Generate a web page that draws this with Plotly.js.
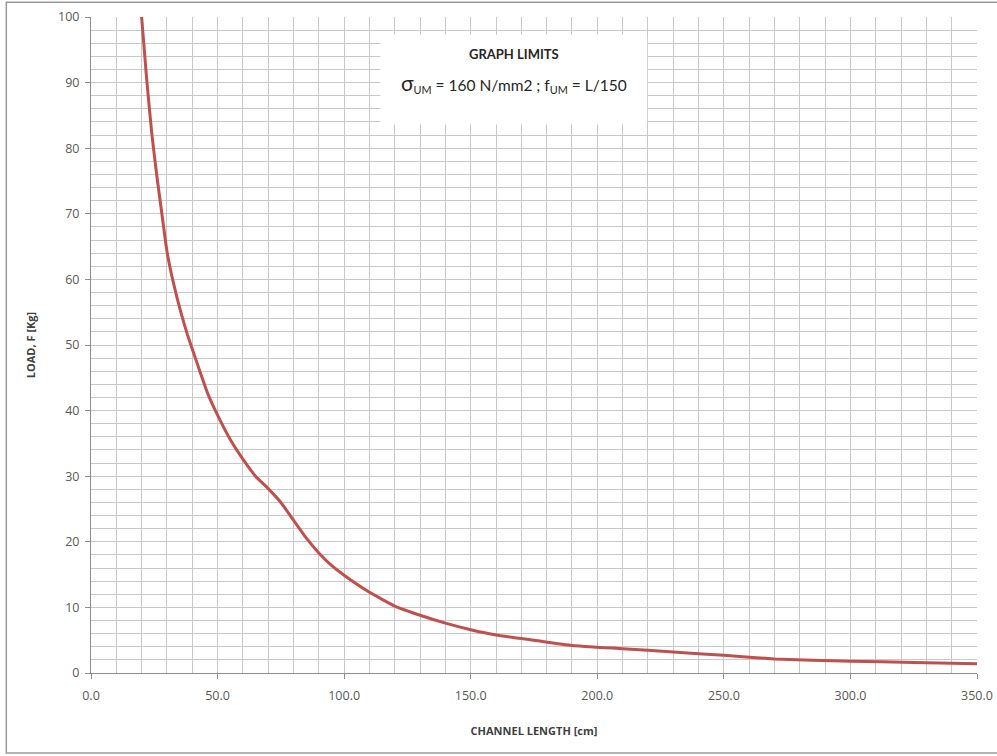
<!DOCTYPE html>
<html>
<head>
<meta charset="utf-8">
<script src="https://cdn.plot.ly/plotly-3.0.1.min.js"></script>
<style>
html,body{margin:0;padding:0;background:#fff;}
#chart{width:997px;height:756px;}
</style>
</head>
<body>
<div id="chart"></div>
<script>
// Channel length [cm]
const lengthCm = [20, 22, 24, 26, 28, 30, 32, 34, 36, 38, 40, 43, 46, 50, 55, 60, 65, 70, 75, 80, 85, 90, 95, 100, 110, 120, 130, 140, 150, 160, 175, 190, 210, 230, 250, 270, 300, 325, 350];
// Load F [Kg]
const loadKg   = [100, 90.5, 82.3, 75.8, 70, 64.3, 60.4, 57.2, 54.3, 51.7, 49.4, 46.0, 42.7, 39.3, 35.6, 32.6, 30.0, 28.1, 26.0, 23.3, 20.6, 18.3, 16.4, 14.9, 12.3, 10.2, 8.8, 7.6, 6.6, 5.8, 5.0, 4.2, 3.7, 3.2, 2.7, 2.15, 1.8, 1.6, 1.4];

const xTickVals = [0, 50, 100, 150, 200, 250, 300, 350];
const yTickVals = [0, 10, 20, 30, 40, 50, 60, 70, 80, 90, 100];

const tickFont = {family: '"Open Sans", Lato, sans-serif', size: 12.5, color: '#595959'};
const titleFont = {family: '"Open Sans", Lato, sans-serif', size: 11, color: '#404040', weight: 'bold'};

const trace = {
  x: lengthCm,
  y: loadKg,
  type: 'scatter',
  mode: 'lines',
  line: {color: '#c0504d', width: 3, shape: 'spline', smoothing: 0.4},
  hoverinfo: 'x+y'
};

const layout = {
  width: 997,
  height: 756,
  margin: {l: 91, r: 20, t: 17, b: 83},
  paper_bgcolor: '#ffffff',
  plot_bgcolor: '#ffffff',
  showlegend: false,
  xaxis: {
    range: [0, 350],
    tickvals: xTickVals,
    ticktext: xTickVals.map(v => v.toFixed(1)),
    ticks: 'outside',
    ticklen: 5,
    tickcolor: '#8c8c8c',
    tickfont: tickFont,
    ticklabelstandoff: 6,
    showgrid: true,
    gridcolor: '#c8c8c8',
    gridwidth: 1,
    minor: {dtick: 10, showgrid: true, gridcolor: '#c8c8c8', gridwidth: 1, ticks: ''},
    showline: true,
    linecolor: '#8c8c8c',
    linewidth: 1,
    zeroline: false,
    fixedrange: true,
    title: {text: 'CHANNEL LENGTH [cm]', font: titleFont, standoff: 24}
  },
  yaxis: {
    range: [0, 100],
    tickvals: yTickVals,
    ticks: 'outside',
    ticklen: 5,
    tickcolor: '#8c8c8c',
    tickfont: tickFont,
    ticklabelstandoff: 3,
    showgrid: true,
    gridcolor: '#c8c8c8',
    gridwidth: 1,
    minor: {dtick: 2, showgrid: true, gridcolor: '#c8c8c8', gridwidth: 1, ticks: ''},
    showline: true,
    linecolor: '#8c8c8c',
    linewidth: 1,
    zeroline: false,
    fixedrange: true,
    title: {text: 'LOAD, F [Kg]', font: titleFont, standoff: 20}
  },
  shapes: [
    {type: 'rect', xref: 'x', yref: 'y', x0: 114.3, x1: 219.7, y0: 83.6, y1: 97.3,
     fillcolor: '#ffffff', line: {width: 0}, layer: 'above'},
    {type: 'rect', xref: 'paper', yref: 'paper', x0: -0.0956, x1: 1.03, y0: -0.1218, y1: 1.0226,
     fillcolor: 'rgba(0,0,0,0)', line: {color: '#9a9a9a', width: 1.5}, layer: 'above'}
  ],
  annotations: [
    {xref: 'x', yref: 'y', x: 167, y: 94.3, text: '<b>GRAPH LIMITS</b>', showarrow: false,
     font: {family: 'Lato, "Open Sans", sans-serif', size: 13, color: '#262626'}},
    {xref: 'x', yref: 'y', x: 167, y: 90.0,
     text: '<span style="font-size:21px">σ</span><sub>UM</sub> = 160 N/mm2 ; f<sub>UM</sub> = L/150',
     showarrow: false,
     font: {family: 'Lato, "Open Sans", sans-serif', size: 15.5, color: '#262626'}}
  ]
};

Plotly.newPlot('chart', [trace], layout, {displayModeBar: false, staticPlot: true});
</script>
</body>
</html>
